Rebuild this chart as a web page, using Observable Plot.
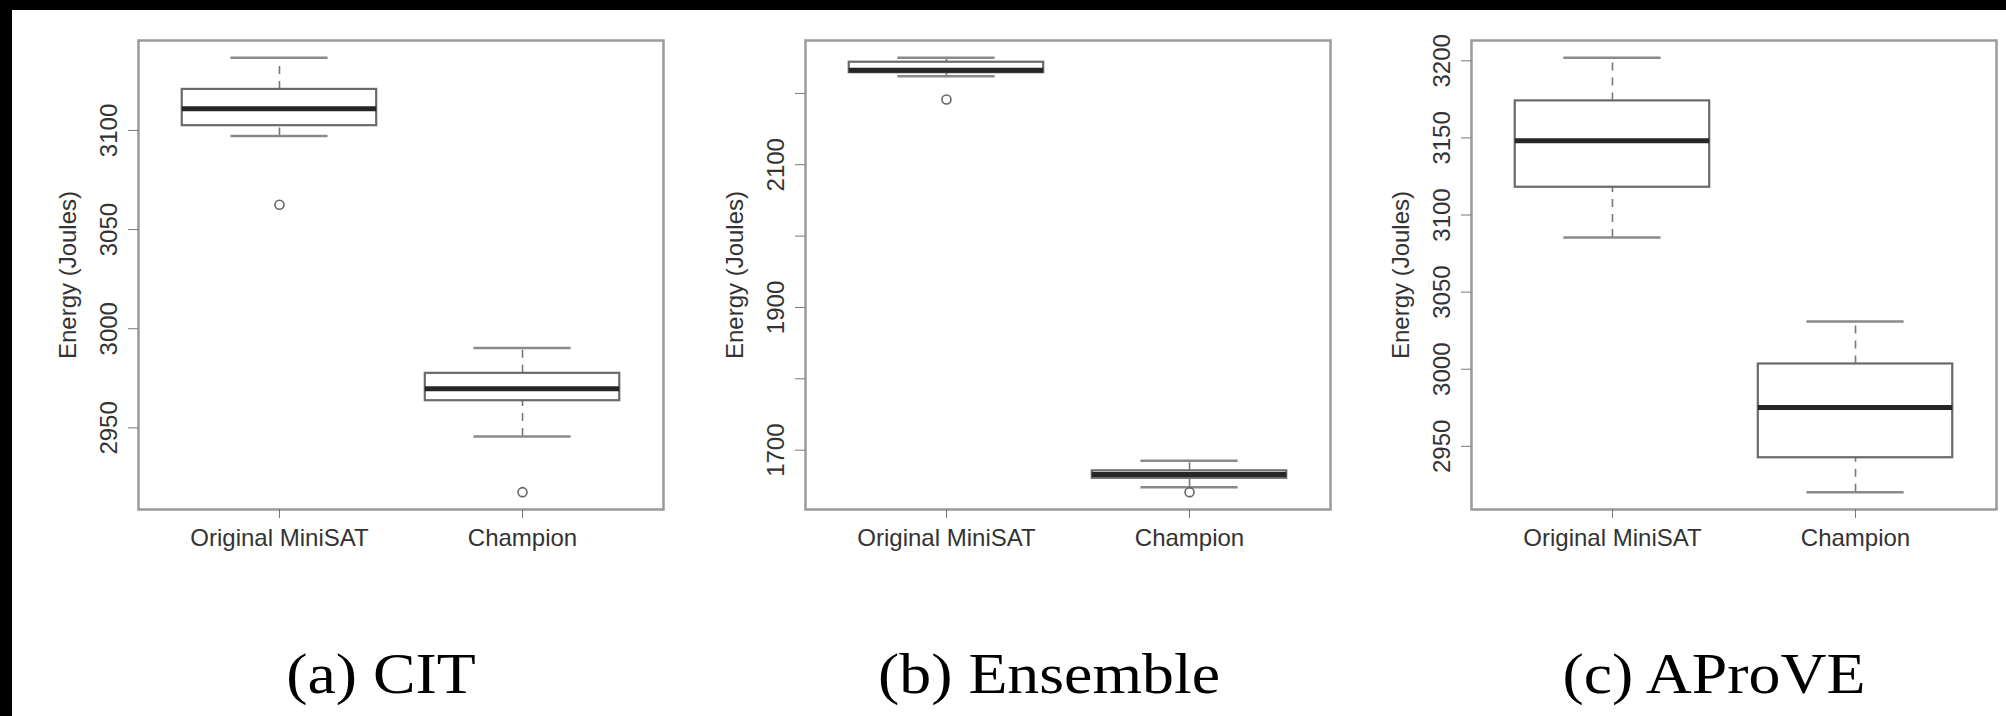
<!DOCTYPE html>
<html>
<head>
<meta charset="utf-8">
<script src="https://cdn.jsdelivr.net/npm/d3@7"></script>
<script src="https://cdn.jsdelivr.net/npm/@observablehq/plot@0.6"></script>
<style>
  html, body { margin: 0; padding: 0; background: #000; width: 2006px; height: 716px; overflow: hidden; }
  #sheet { position: absolute; left: 12px; top: 10px; width: 1994px; height: 706px; background: #fff; }
  .panel { position: absolute; top: 10px; }
  .caption { position: absolute; top: 645px; font-family: "Liberation Serif", serif; font-size: 58px; line-height: 58px; color: #000; white-space: nowrap; transform: translateX(-50%) scaleX(1.1); }
</style>
</head>
<body>
<div id="sheet"></div>
<script>
const categories = ["Original MiniSAT", "Champion"];
const yTitle = "Energy (Joules)";
const captions = ["(a) CIT", "(b) Ensemble", "(c) AProVE"];

// (a) CIT
const citLow = [3097.2, 2945.6];
const citQ1 = [3102.4, 2963.7];
const citMed = [3111.0, 2969.7];
const citQ3 = [3120.7, 2977.5];
const citHigh = [3136.6, 2990.3];
const citOutliers = [[3062.5], [2917.6]];
const citTicks = [2950, 3000, 3050, 3100];
const citTickLabels = [2950, 3000, 3050, 3100];

// (b) Ensemble
const ensLow = [2224.0, 1648.2];
const ensQ1 = [2229.0, 1660.6];
const ensMed = [2232.5, 1666.0];
const ensQ3 = [2243.7, 1671.0];
const ensHigh = [2249.8, 1685.3];
const ensOutliers = [[2191.4], [1641.2]];
const ensTicks = [1700, 1800, 1900, 2000, 2100, 2200];
const ensTickLabels = [1700, 1900, 2100];

// (c) AProVE
const apLow = [3085.4, 2920.3];
const apQ1 = [3118.0, 2942.6];
const apMed = [3148.2, 2975.1];
const apQ3 = [3174.0, 3003.4];
const apHigh = [3201.9, 3030.9];
const apOutliers = [[], []];
const apTicks = [2950, 3000, 3050, 3100, 3150, 3200];
const apTickLabels = [2950, 3000, 3050, 3100, 3150, 3200];

const panels = [
  {left: 20, low: citLow, q1: citQ1, med: citMed, q3: citQ3, high: citHigh, out: citOutliers, ticks: citTicks, labels: citTickLabels, caption: captions[0], capX: 381},
  {left: 687, low: ensLow, q1: ensQ1, med: ensMed, q3: ensQ3, high: ensHigh, out: ensOutliers, ticks: ensTicks, labels: ensTickLabels, caption: captions[1], capX: 1049},
  {left: 1353, low: apLow, q1: apQ1, med: apMed, q3: apQ3, high: apHigh, out: apOutliers, ticks: apTicks, labels: apTickLabels, caption: captions[2], capX: 1714}
];

const font = "Liberation Sans, Arial, sans-serif";

for (const p of panels) {
  const rows = categories.map((c, i) => ({cat: c, pos: i + 1, low: p.low[i], q1: p.q1[i], med: p.med[i], q3: p.q3[i], high: p.high[i]}));
  const outs = categories.flatMap((c, i) => p.out[i].map(v => ({pos: i + 1, value: v})));
  const all = rows.flatMap(r => [r.low, r.high]).concat(outs.map(o => o.value));
  const [mn, mx] = d3.extent(all);
  const pad = (mx - mn) * 0.04;
  const chart = Plot.plot({
    width: 653,
    height: 549,
    marginLeft: 118,
    marginRight: 10,
    marginTop: 30,
    marginBottom: 50,
    style: {background: "transparent", overflow: "visible", fontFamily: font, color: "#333"},
    x: {domain: [0.42, 2.58], axis: null},
    y: {domain: [mn - pad, mx + pad], axis: null},
    marks: [
      Plot.ruleX(rows, {x: "pos", y1: "q3", y2: "high", stroke: "#777", strokeWidth: 1.6, strokeDasharray: "8,7"}),
      Plot.ruleX(rows, {x: "pos", y1: "low", y2: "q1", stroke: "#777", strokeWidth: 1.6, strokeDasharray: "8,7"}),
      Plot.ruleY(rows, {y: "high", x1: d => d.pos - 0.2, x2: d => d.pos + 0.2, stroke: "#8a8a8a", strokeWidth: 2.5}),
      Plot.ruleY(rows, {y: "low", x1: d => d.pos - 0.2, x2: d => d.pos + 0.2, stroke: "#8a8a8a", strokeWidth: 2.5}),
      Plot.rect(rows, {x1: d => d.pos - 0.4, x2: d => d.pos + 0.4, y1: "q1", y2: "q3", fill: "white", stroke: "#6a6a6a", strokeWidth: 2.2}),
      Plot.ruleY(rows, {y: "med", x1: d => d.pos - 0.4, x2: d => d.pos + 0.4, stroke: "#262626", strokeWidth: 5}),
      Plot.dot(outs, {x: "pos", y: "value", r: 4.5, stroke: "#666", strokeWidth: 1.6, fill: "none"}),
      Plot.frame({stroke: "#9a9a9a", strokeWidth: 2.5}),
      Plot.axisX({ticks: [1, 2], tickFormat: i => categories[i - 1], tickSize: 9, tickPadding: 10, fontSize: 24, stroke: "#777", fill: "#333", label: null}),
      Plot.axisY({ticks: p.ticks, tickFormat: d => p.labels.includes(d) ? String(d) : "", tickSize: 10, tickPadding: 12, tickRotate: -90, fontSize: 24, stroke: "#777", fill: "#333", label: null}),
      Plot.text([yTitle], {text: d => d, frameAnchor: "left", dx: -63, rotate: -90, lineAnchor: "bottom", textAnchor: "middle", fontSize: 24, fill: "#333"})
    ]
  });
  chart.classList.add("panel");
  chart.style.left = p.left + "px";
  chart.style.position = "absolute";
  chart.style.top = "10px";
  chart.style.maxWidth = "none";
  document.body.appendChild(chart);

  const cap = document.createElement("div");
  cap.className = "caption";
  cap.style.left = p.capX + "px";
  cap.textContent = p.caption;
  document.body.appendChild(cap);
}
</script>
</body>
</html>
